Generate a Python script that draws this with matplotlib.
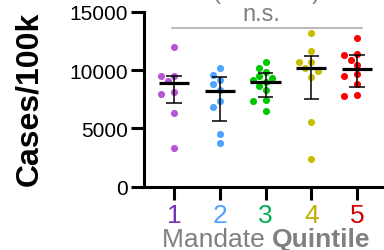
import numpy as np
import matplotlib
matplotlib.use('Agg')
import matplotlib.pyplot as plt

plt.rcParams['font.family'] = ['Liberation Sans', 'DejaVu Sans']

# valores (casos por 100k)
quintiles = ['1', '2', '3', '4', '5']
q1_vals = [11950, 9510, 9510, 9030, 8140, 7920, 6320, 3320]
q2_vals = [10150, 9600, 9170, 8830, 8310, 7320, 6800, 4520, 3720]
q3_vals = [10710, 10150, 9860, 9460, 9340, 9170, 8950, 8600, 8310, 7460, 7370, 6490]
q4_vals = [13170, 11660, 10710, 10660, 10200, 9940, 9430, 5570, 2400]
q5_vals = [12770, 11400, 11290, 10860, 10460, 9660, 9510, 8800, 7860, 7750]
medianas = [8860, 8230, 9000, 10150, 10090]
cuartil_inf = [7150, 5630, 7710, 7540, 8570]
cuartil_sup = [9460, 9380, 9720, 11180, 11290]

grupos = [q1_vals, q2_vals, q3_vals, q4_vals, q5_vals]
colores = ['#b655d6', '#4da3ff', '#00c800', '#c8be00', '#ff0000']
colores_tick = ['#7a2fb8', '#4da3ff', '#00b04f', '#bfb000', '#d40000']

fig = plt.figure(figsize=(3.84, 2.51), dpi=100)
ax = fig.add_axes([0.375, 0.252, 0.625, 0.697])
ax.set_xlim(0.344, 5.59)
ax.set_ylim(0, 15000)

# distribucion tipo enjambre, en pixeles
diam = 7.0
trans = ax.transData
for i, vals in enumerate(grupos):
    xc = i + 1
    puestos = []
    for v in sorted(vals, reverse=True):
        x0, py = trans.transform((xc, v))
        for k in [0, -1, 1, -2, 2, -3, 3]:
            px = x0 + k * 6.3
            if all(np.hypot(px - a, py - b) >= diam for a, b in puestos):
                puestos.append((px, py))
                break
    pts = trans.inverted().transform(np.array(puestos))
    ax.scatter(pts[:, 0], pts[:, 1], s=26, color=colores[i], linewidths=0, zorder=2)

# mediana y rango intercuartil
x = np.arange(1, 6)
ax.hlines(medianas, x - 0.33, x + 0.33, color='black', lw=2.3, zorder=3)
ax.vlines(x, cuartil_inf, cuartil_sup, color='black', lw=1.1, zorder=3)
ax.hlines(cuartil_inf, x - 0.165, x + 0.165, color='black', lw=1.1, zorder=3)
ax.hlines(cuartil_sup, x - 0.165, x + 0.165, color='black', lw=1.1, zorder=3)

# linea n.s.
ax.plot([0.95, 5.1], [13620, 13620], color='#a6a6a6', lw=1.1, clip_on=False)
ax.text(2.9, 13900, 'n.s.', ha='center', va='bottom', fontsize=17, color='#7f7f7f')
fig.text(266 / 384, 1 - 4.5 / 251, '(4/1/2021)', ha='center', va='bottom',
         fontsize=17, color='#7f7f7f')

ax.spines['top'].set_visible(False)
ax.spines['right'].set_visible(False)
for s in ['left', 'bottom']:
    ax.spines[s].set_linewidth(2.2)
ax.tick_params(width=2.2, length=9.5, labelsize=15, pad=2)
ax.set_yticks([0, 5000, 10000, 15000])
ax.set_xticks(x)
ax.set_xticklabels(quintiles, fontsize=19)
for lab, c in zip(ax.get_xticklabels(), colores_tick):
    lab.set_color(c)

fig.text(29 / 384, 1 - 99 / 251, 'Cases/100k', rotation=90, ha='center', va='center',
         fontsize=23, fontweight='bold')

# titulo del eje x: "Mandate" normal y "Quintile" en negrita, juntos
renderer = fig.canvas.get_renderer()
t1 = fig.text(0, 1 - 240 / 251, 'Mandate ', ha='left', va='center',
              fontsize=19, color='#808080')
t2 = fig.text(0, 1 - 240 / 251, 'Quintile', ha='left', va='center',
              fontsize=19, color='#808080', fontweight='bold')
w1 = t1.get_window_extent(renderer).width
w2 = t2.get_window_extent(renderer).width
inicio = 266.5 - (w1 + w2) / 2
t1.set_x(inicio / 384)
t2.set_x((inicio + w1) / 384)

fig.savefig('out.png', dpi=100)
